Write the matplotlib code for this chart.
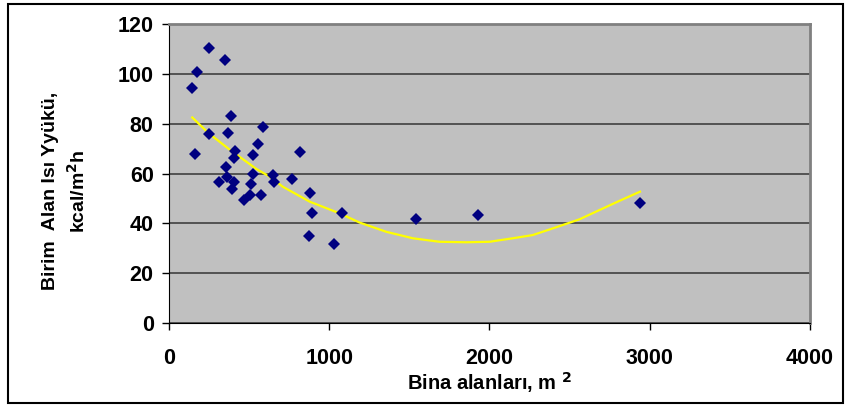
import matplotlib.pyplot as plt
from matplotlib.patches import Rectangle

# building floor area (m2) vs unit heat load (kcal/m2h)
area = [146, 173, 247, 347, 160, 247, 384, 369, 584, 558, 414, 403, 522, 818,
        358, 312, 359, 405, 396, 523, 514, 650, 657, 769, 508, 573, 467, 882,
        893, 871, 1032, 1081, 1541, 1927, 2939]
load = [94.4, 100.8, 110.5, 105.7, 68.0, 75.8, 83.2, 76.1, 78.5, 71.8, 69.0,
        66.2, 67.3, 68.7, 62.7, 56.4, 58.7, 56.4, 53.6, 59.8, 55.8, 59.4, 56.7,
        57.6, 51.2, 51.2, 49.2, 52.0, 44.0, 35.0, 31.9, 44.1, 41.6, 43.2, 48.0]

# trend line
trend_x = [145, 247, 380, 546, 629, 710, 878, 1065, 1190, 1356, 1522, 1688,
           1855, 2000, 2145, 2270, 2415, 2561, 2685, 2810, 2939]
trend_y = [82.5, 76.2, 69.5, 61.8, 58.7, 54.7, 48.7, 44.0, 40.3, 36.6, 34.0,
           32.6, 32.4, 32.6, 34.0, 35.3, 38.4, 41.6, 45.3, 49.0, 52.7]

xticks = [0, 1000, 2000, 3000, 4000]
yticks = [0, 20, 40, 60, 80, 100, 120]

plt.rcParams['font.family'] = ['Liberation Sans', 'DejaVu Sans']
plt.rcParams['font.weight'] = 'bold'

fig = plt.figure(figsize=(8.51, 4.07), dpi=100)
ax = fig.add_axes([0.1986, 0.2064, 0.7532, 0.7346])
ax.set_facecolor('#C0C0C0')

ax.plot(trend_x, trend_y, color='#FFFF00', lw=1.6, zorder=3)
ax.plot(area, load, 'D', color='#000080', ms=6.2, mew=0, zorder=4)

ax.set_xlim(0, 4000)
ax.set_ylim(0, 120)
ax.set_xticks(xticks)
ax.set_yticks(yticks)
ax.tick_params(direction='out', length=5, width=1, labelsize=15.5, pad=6)
ax.tick_params(axis='x', pad=13)
for lbl in ax.get_xticklabels() + ax.get_yticklabels():
    lbl.set_fontweight('bold')

ax.grid(axis='y', color='#404040', lw=1.2)
ax.set_axisbelow(True)
ax.spines['left'].set_color('black')
ax.spines['bottom'].set_color('black')
ax.spines['top'].set_color('#808080')
ax.spines['right'].set_color('#808080')
ax.spines['top'].set_linewidth(2)
ax.spines['right'].set_linewidth(2)

ax.set_xlabel('Bina alanları, m $^{\\mathbf{2}}$', fontsize=14.5,
              fontweight='bold', labelpad=1)
fig.text(0.077, 0.53, 'Birim  Alan Isı Yyükü,\nkcal/m$^{\\mathbf{2}}$h',
         rotation=90, ha='center', va='center', fontsize=14,
         fontweight='bold', multialignment='center', linespacing=1.45)

fig.patches.append(Rectangle((8 / 851, 4 / 407), 835 / 851, 399 / 407,
                             transform=fig.transFigure, fill=False,
                             edgecolor='black', lw=1.5))

fig.savefig('out.png', dpi=100)
